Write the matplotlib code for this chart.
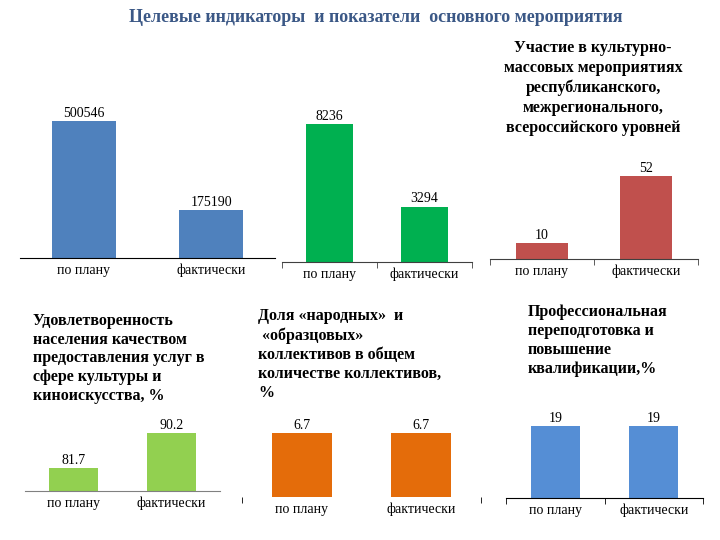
import matplotlib
matplotlib.use('Agg')
import matplotlib.pyplot as plt

plt.rcParams['font.family'] = ['Liberation Serif', 'DejaVu Serif']

W, H = 720, 540

# ---- data ----
categories = ['по плану', 'фактически']
visitors = [500546, 175190]
events = [8236, 3294]
participation = [10, 52]
satisfaction = [81.7, 90.2]
collectives_share = [6.7, 6.7]
training = [19, 19]

main_title = 'Целевые индикаторы  и показатели  основного мероприятия'
title_participation = ('Участие в культурно-\nмассовых мероприятиях\nреспубликанского,\n'
                       'межрегионального,\nвсероссийского уровней')
title_satisfaction = ('Удовлетворенность\nнаселения качеством\nпредоставления услуг в\n'
                      'сфере культуры и\nкиноискусства, %')
title_collectives = ('Доля «народных»  и\n «образцовых»\nколлективов в общем\n'
                     'количестве коллективов,\n%')
title_training = 'Профессиональная\nпереподготовка и\nповышение\nквалификации,%'

fig = plt.figure(figsize=(W / 100, H / 100), dpi=100)


def panel(values, color, x0, x1, base_y, top_y, ybot=0, head=1.15,
          spine_color='black', spine=True, sep_ticks=(-0.5, 0.5, 1.5)):
    # pixel geometry -> figure fraction
    bar_h = base_y - top_y
    ax_h = bar_h * head
    ax = fig.add_axes([x0 / W, 1 - base_y / H, (x1 - x0) / W, ax_h / H])
    x = range(len(values))
    ax.bar(x, values, width=0.5, color=color)
    ax.set_xlim(-0.5, len(values) - 0.5)
    ax.set_ylim(ybot, ybot + (max(values) - ybot) * head)
    for i, v in enumerate(values):
        ax.annotate(f'{v:g}', (i, v), xytext=(0, 1), textcoords='offset points',
                    ha='center', va='bottom', fontsize=10)
    for s in ['top', 'left', 'right']:
        ax.spines[s].set_visible(False)
    ax.spines['bottom'].set_color(spine_color)
    ax.spines['bottom'].set_visible(spine)
    ax.set_yticks([])
    ax.set_xticks(list(x))
    ax.set_xticklabels(categories, fontsize=10)
    ax.tick_params(axis='x', which='major', length=0, pad=4)
    if sep_ticks:
        ax.set_xticks(list(sep_ticks), minor=True)
        ax.tick_params(axis='x', which='minor', length=4, color=spine_color)
    ax.patch.set_alpha(0)
    return ax


panel(visitors, '#4f81bd', 20, 275, 258, 121, sep_ticks=None)
panel(events, '#00b050', 282, 472, 262, 124, spine_color='#404040')
panel(participation, '#c0504d', 490, 698, 259, 176, spine_color='#404040')
panel(satisfaction, '#92d050', 25, 220, 491, 433, ybot=76.1, head=1.25,
      spine_color='#808080', sep_ticks=None)
panel(collectives_share, '#e46c0a', 242, 481, 497, 433, spine=False,
      sep_ticks=(-0.5, 1.5))
panel(training, '#558ed5', 506, 703, 498, 426)

fig.text(376 / W, 1 - 18 / H, main_title, ha='center', va='center',
         fontsize=13, fontweight='bold', color='#3b5886')

title_kw = dict(fontsize=11.5, fontweight='bold', va='top')
fig.text(593 / W, 1 - 40 / H, title_participation, ha='center',
         multialignment='center', linespacing=1.32, **title_kw)
fig.text(33 / W, 1 - 313 / H, title_satisfaction, ha='left', linespacing=1.22, **title_kw)
fig.text(258 / W, 1 - 308 / H, title_collectives, ha='left', linespacing=1.26, **title_kw)
fig.text(528 / W, 1 - 304 / H, title_training, ha='left', linespacing=1.26, **title_kw)

fig.savefig('out.png', dpi=100)
